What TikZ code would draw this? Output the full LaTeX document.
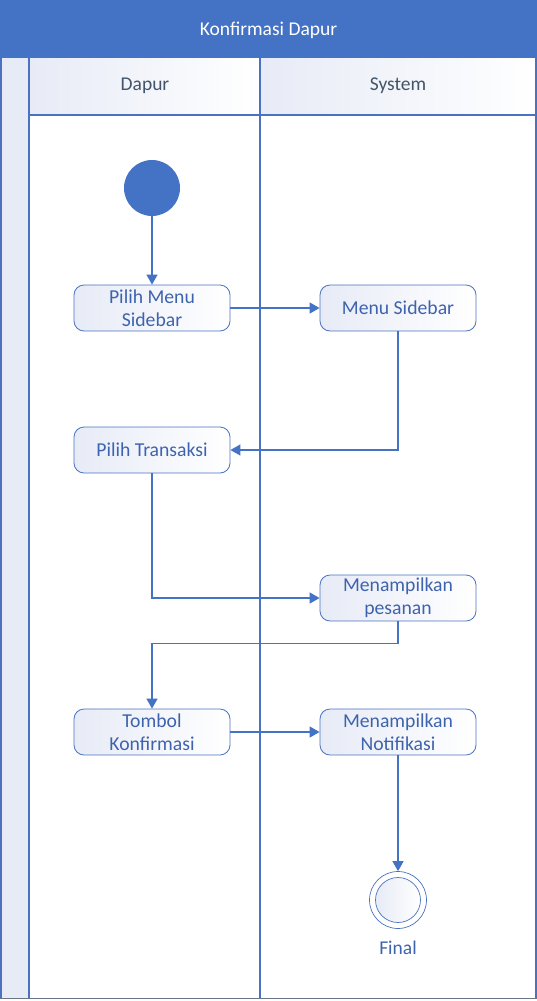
\documentclass[tikz,border=0pt]{standalone}
\usepackage{fontspec}
\setmainfont{Carlito}
\usetikzlibrary{arrows.meta,shapes.geometric}
\definecolor{hdrblue}{HTML}{4472C4}
\definecolor{lineblue}{HTML}{4A72C0}
\definecolor{txtblue}{HTML}{3E63AE}
\definecolor{paleblue}{HTML}{E7EBF6}
\definecolor{lanetxt}{HTML}{44546A}
\tikzset{
  actbox/.style={draw=lineblue, line width=0.8pt, rounded corners=10pt,
    minimum width=156pt, minimum height=46pt, inner sep=0pt, align=center,
    left color=paleblue, right color=white, text=txtblue,
    font=\fontsize{19.7}{23}\selectfont},
  flow/.style={draw=hdrblue, line width=1.4pt, -{Triangle[length=10pt,width=11pt]}},
  laneline/.style={draw=lineblue, line width=1.1pt},
  lanehdr/.style={font=\fontsize{19.5}{23}\selectfont, text=lanetxt},
}
\begin{document}
\begin{tikzpicture}[x=1pt,y=-1pt]
\useasboundingbox (0,0) rectangle (537,1001);
% left strip
\fill[paleblue] (0,58) rectangle (29,998);
% header backgrounds
\shade[left color=paleblue, right color=white] (29,58) rectangle (260,115);
\shade[left color=paleblue, right color=white] (260,58) rectangle (537,115);
% title bar
\fill[hdrblue] (0,0) rectangle (537,58);
\node[text=white, font=\fontsize{19.5}{23}\selectfont] (title) at (268.5,30) {Konfirmasi Dapur};
% lane lines
\draw[laneline] (1,58) -- (1,998);
\draw[laneline] (29,58) -- (29,998);
\draw[laneline] (260,58) -- (260,998);
\draw[laneline] (536,58) -- (536,998);
\draw[laneline] (29,115) -- (536,115);
\draw[draw=lanetxt!80, line width=1.2pt] (0,998.5) -- (537,998.5);
\node[lanehdr] (ldapur) at (145,86) {Dapur};
\node[lanehdr] (lsys) at (398,86) {System};
% nodes
\node[circle, fill=hdrblue, minimum size=56pt, inner sep=0pt] (start) at (152,188) {};
\node[actbox] (pms) at (152,308) {Pilih Menu\\Sidebar};
\node[actbox] (ms) at (398,308) {Menu Sidebar};
\node[actbox] (pt) at (152,450) {Pilih Transaksi};
\node[actbox] (mp) at (398,598) {Menampilkan\\pesanan};
\node[actbox] (tk) at (152,732) {Tombol\\Konfirmasi};
\node[actbox] (mn) at (398,732) {Menampilkan\\Notifikasi};
\node[circle, draw=lineblue, line width=0.7pt, minimum size=57pt, inner sep=0pt, fill=white] (final) at (398,900) {};
\node[circle, draw=lineblue, line width=0.7pt, minimum size=45pt, inner sep=0pt, left color=paleblue, right color=white] (finalin) at (final.center) {};
\node[text=txtblue, font=\fontsize{19.5}{23}\selectfont] (flabel) at (398,948) {Final};
% connectors
\draw[flow] (start) -- (pms);
\draw[flow] (pms) -- (ms);
\draw[flow] (ms.south) |- (pt.east);
\draw[flow] (pt.south) |- (mp.west);
\draw[flow] (mp.south) -- ++(0,22) -| (tk.north);
\draw[flow] (tk) -- (mn);
\draw[flow] (mn) -- (final);
\end{tikzpicture}
\end{document}
